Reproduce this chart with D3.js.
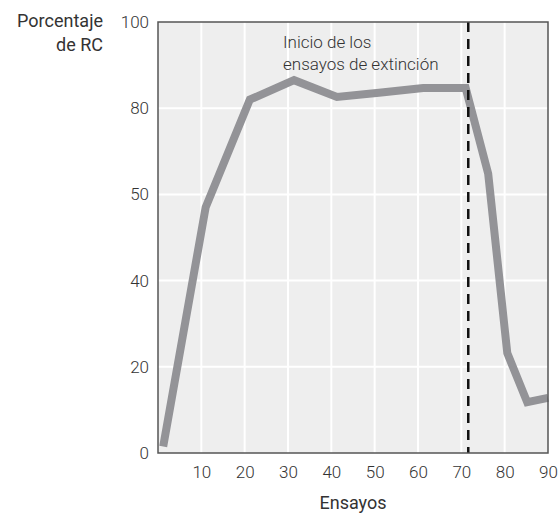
<!DOCTYPE html>
<html>
<head>
<meta charset="utf-8">
<script src="https://cdn.jsdelivr.net/npm/d3@7"></script>
<style>
    body { margin: 0; background: #fff; }
    text { font-family: Roboto, "Liberation Sans", sans-serif; fill: #333; }
</style>
</head>
<body>
<div id="chart"></div>
<script>
"use strict";

// trial number and percentage of conditioned responses
const trials = [1.2, 11, 21.2, 31.4, 41.3, 51, 61.2, 71, 76.2, 80.6, 85.2, 90];
const percent = [1.5, 57, 82, 86.5, 82.6, 83.6, 84.7, 84.7, 64.8, 23.2, 11.8, 12.8];
const xTicks = [10, 20, 30, 40, 50, 60, 70, 80, 90];
const yTicks = [0, 20, 40, 60, 80, 100];
const yTickLabels = ["0", "20", "40", "50", "80", "100"];
const extinctionStart = 71.6;

function main() {
    const width = 559, height = 515;
    const margin = {top: 22, right: 11, bottom: 62, left: 158};
    const svg = d3.select("#chart").append("svg")
        .attr("width", width).attr("height", height);

    const xScale = d3.scaleLinear().domain([0, 90])
        .range([margin.left, width - margin.right]);
    const yScale = d3.scaleLinear().domain([0, 100])
        .range([height - margin.bottom, margin.top]);

    // plot background
    svg.append("rect")
        .attr("x", xScale(0)).attr("y", yScale(100))
        .attr("width", xScale(90) - xScale(0))
        .attr("height", yScale(0) - yScale(100))
        .attr("fill", "#eeeeee");

    // white grid
    const grid = svg.append("g").attr("stroke", "#fff").attr("stroke-width", 2);
    grid.selectAll(".gx").data(xTicks.slice(0, -1)).enter().append("line")
        .attr("x1", d => xScale(d)).attr("x2", d => xScale(d))
        .attr("y1", yScale(100)).attr("y2", yScale(0));
    grid.selectAll(".gy").data(yTicks.slice(1, -1)).enter().append("line")
        .attr("y1", d => yScale(d)).attr("y2", d => yScale(d))
        .attr("x1", xScale(0)).attr("x2", xScale(90));

    // data line
    const line = d3.line()
        .x((d, i) => xScale(trials[i]))
        .y(d => yScale(d));
    svg.append("path")
        .datum(percent)
        .attr("d", line)
        .attr("fill", "none")
        .attr("stroke", "#939397")
        .attr("stroke-width", 8)
        .attr("stroke-linejoin", "miter");

    // extinction marker
    svg.append("line")
        .attr("x1", xScale(extinctionStart)).attr("x2", xScale(extinctionStart))
        .attr("y1", yScale(100)).attr("y2", yScale(0))
        .attr("stroke", "#111")
        .attr("stroke-width", 2.5)
        .attr("stroke-dasharray", "10,7");

    // frame
    svg.append("rect")
        .attr("x", xScale(0)).attr("y", yScale(100))
        .attr("width", xScale(90) - xScale(0))
        .attr("height", yScale(0) - yScale(100))
        .attr("fill", "none")
        .attr("stroke", "#555")
        .attr("stroke-width", 1.5);

    // axes
    const xAxis = d3.axisBottom(xScale).tickValues(xTicks).tickSize(0).tickPadding(13);
    const gx = svg.append("g")
        .attr("transform", "translate(0," + yScale(0) + ")")
        .call(xAxis);
    const yAxis = d3.axisLeft(yScale).tickValues(yTicks)
        .tickFormat((d, i) => yTickLabels[i]).tickSize(0).tickPadding(9);
    const gy = svg.append("g")
        .attr("transform", "translate(" + xScale(0) + ",0)")
        .call(yAxis);
    [gx, gy].forEach(function (g) {
        g.select(".domain").remove();
        g.selectAll("text").attr("font-size", 17).attr("font-family", null)
            .attr("font-weight", 300).attr("fill", "#333");
    });

    // labels
    svg.append("text").attr("x", 353).attr("y", 509)
        .attr("text-anchor", "middle").attr("font-size", 18).text("Ensayos");
    const yLabel = svg.append("text").attr("text-anchor", "end").attr("font-size", 18);
    yLabel.append("tspan").attr("x", 103).attr("y", 27).text("Porcentaje");
    yLabel.append("tspan").attr("x", 103).attr("y", 51).text("de RC");

    const note = svg.append("text").attr("font-size", 17).attr("font-weight", 300).attr("fill", "#333");
    note.append("tspan").attr("x", 283).attr("y", 48).text("Inicio de los");
    note.append("tspan").attr("x", 283).attr("y", 70).text("ensayos de extinción");
}

main();
</script>
</body>
</html>
